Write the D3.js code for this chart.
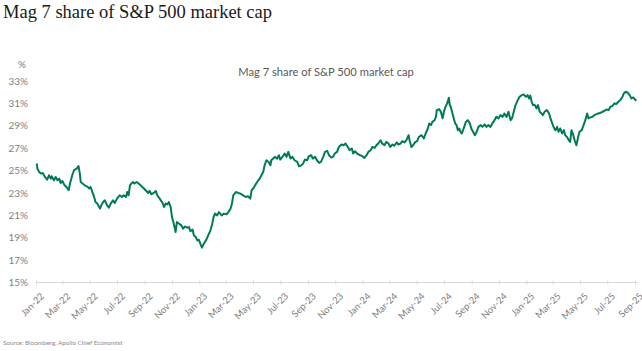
<!DOCTYPE html>
<html>
<head>
<meta charset="utf-8">
<title>Mag 7 share of S&amp;P 500 market cap</title>
<script src="https://cdn.jsdelivr.net/npm/d3@7"></script>
<style>
  body { margin: 0; background: #fff; }
  svg { display: block; }
</style>
</head>
<body>
<div id="chart"></div>
<script>
// Mag 7 share of S&P 500 market cap
const dates = [
  "2022-01-03","2022-01-04","2022-01-08","2022-01-12","2022-01-16","2022-01-21","2022-01-26","2022-01-30",
  "2022-02-03","2022-02-05","2022-02-10","2022-02-14","2022-02-18","2022-02-22","2022-02-25",
  "2022-03-01","2022-03-06","2022-03-10","2022-03-15","2022-03-18","2022-03-23","2022-03-27",
  "2022-04-02","2022-04-06","2022-04-09","2022-04-11","2022-04-15","2022-04-20","2022-04-25","2022-04-30",
  "2022-05-03","2022-05-07","2022-05-11","2022-05-14","2022-05-18","2022-05-24","2022-05-27","2022-05-31",
  "2022-06-04","2022-06-09","2022-06-13","2022-06-17","2022-06-22","2022-06-26",
  "2022-07-01","2022-07-07","2022-07-12","2022-07-16","2022-07-21","2022-07-24","2022-07-27","2022-07-30",
  "2022-08-02","2022-08-06","2022-08-09","2022-08-14","2022-08-17","2022-08-23","2022-08-28",
  "2022-09-03","2022-09-09","2022-09-12","2022-09-16","2022-09-21","2022-09-26","2022-09-29",
  "2022-10-03","2022-10-07","2022-10-11","2022-10-14","2022-10-18","2022-10-22","2022-10-25","2022-10-29",
  "2022-11-01","2022-11-05","2022-11-09","2022-11-12","2022-11-17","2022-11-22","2022-11-26","2022-11-30",
  "2022-12-05","2022-12-09","2022-12-12","2022-12-17","2022-12-20","2022-12-24","2022-12-28","2022-12-31",
  "2023-01-04","2023-01-07","2023-01-11","2023-01-16","2023-01-21","2023-01-26","2023-01-30",
  "2023-02-02","2023-02-05","2023-02-10","2023-02-14","2023-02-20","2023-02-25",
  "2023-03-03","2023-03-07","2023-03-12","2023-03-15","2023-03-18","2023-03-21","2023-03-24","2023-03-29",
  "2023-04-03","2023-04-09","2023-04-15","2023-04-20","2023-04-25","2023-04-28",
  "2023-05-03","2023-05-07","2023-05-12","2023-05-16","2023-05-20","2023-05-24","2023-05-27","2023-05-31",
  "2023-06-05","2023-06-09","2023-06-11","2023-06-15","2023-06-19","2023-06-24","2023-06-28",
  "2023-07-01","2023-07-06","2023-07-11","2023-07-15","2023-07-19","2023-07-24","2023-07-28",
  "2023-08-02","2023-08-08","2023-08-12","2023-08-17","2023-08-21","2023-08-25","2023-08-30",
  "2023-09-03","2023-09-08","2023-09-12","2023-09-17","2023-09-21","2023-09-26","2023-09-30",
  "2023-10-05","2023-10-09","2023-10-14","2023-10-18","2023-10-23","2023-10-27","2023-10-31",
  "2023-11-05","2023-11-09","2023-11-15","2023-11-20","2023-11-24","2023-11-29",
  "2023-12-03","2023-12-08","2023-12-11","2023-12-15","2023-12-20","2023-12-26","2023-12-31",
  "2024-01-05","2024-01-10","2024-01-14","2024-01-19","2024-01-23","2024-01-28",
  "2024-02-01","2024-02-05","2024-02-10","2024-02-14","2024-02-19","2024-02-23","2024-02-28",
  "2024-03-03","2024-03-08","2024-03-12","2024-03-17","2024-03-21","2024-03-26","2024-03-30",
  "2024-04-04","2024-04-08","2024-04-13","2024-04-15","2024-04-19","2024-04-23","2024-04-28",
  "2024-05-02","2024-05-06","2024-05-12","2024-05-17","2024-05-21","2024-05-26","2024-05-29",
  "2024-06-02","2024-06-05","2024-06-10","2024-06-13","2024-06-15","2024-06-20","2024-06-24","2024-06-28","2024-06-30",
  "2024-07-03","2024-07-08","2024-07-12","2024-07-14","2024-07-16","2024-07-20","2024-07-23","2024-07-26","2024-07-29",
  "2024-08-01","2024-08-04","2024-08-07","2024-08-10","2024-08-14","2024-08-19","2024-08-23","2024-08-28","2024-08-31",
  "2024-09-04","2024-09-08","2024-09-12","2024-09-16","2024-09-21","2024-09-25","2024-09-30",
  "2024-10-04","2024-10-08","2024-10-13","2024-10-17","2024-10-22","2024-10-26","2024-10-31",
  "2024-11-04","2024-11-09","2024-11-13","2024-11-18","2024-11-22","2024-11-27","2024-11-30",
  "2024-12-04","2024-12-08","2024-12-13","2024-12-17","2024-12-22","2024-12-26","2024-12-31",
  "2025-01-04","2025-01-07","2025-01-10","2025-01-13","2025-01-16","2025-01-20","2025-01-24","2025-01-27","2025-01-31",
  "2025-02-04","2025-02-07","2025-02-11","2025-02-16","2025-02-21","2025-02-24","2025-02-28",
  "2025-03-03","2025-03-07","2025-03-11","2025-03-14","2025-03-18","2025-03-22","2025-03-26","2025-03-29",
  "2025-04-02","2025-04-06","2025-04-09","2025-04-12","2025-04-15","2025-04-19","2025-04-23","2025-04-27","2025-04-30",
  "2025-05-05","2025-05-09","2025-05-13","2025-05-17","2025-05-20","2025-05-24","2025-05-29",
  "2025-06-02","2025-06-07","2025-06-11","2025-06-16","2025-06-20","2025-06-25","2025-06-29",
  "2025-07-04","2025-07-08","2025-07-12","2025-07-17","2025-07-21","2025-07-26","2025-07-30",
  "2025-08-04","2025-08-07","2025-08-11","2025-08-16","2025-08-20","2025-08-24","2025-08-28",
  "2025-09-01","2025-09-04"
]
const share = [
  25.63,25.18,24.88,24.73,24.79,24.43,24.19,24.58,
  24.28,24.49,24.13,24.43,24.13,24.28,23.89,
  24.07,23.68,23.53,23.24,23.84,24.58,25.03,
  25.18,25.41,24.73,23.98,23.84,23.68,23.59,23.39,
  23.53,23.08,22.64,22.19,22.05,21.60,21.89,22.19,
  22.34,21.89,21.69,22.05,22.34,22.10,
  22.49,22.79,22.64,22.79,22.64,23.08,22.79,23.68,
  23.84,23.98,23.84,23.98,23.89,23.68,23.48,
  23.24,23.00,23.18,22.88,23.00,23.18,22.79,
  22.58,22.34,22.10,21.74,22.05,21.98,22.19,21.74,
  20.85,20.25,19.50,20.40,20.25,20.10,19.81,20.01,
  19.90,19.95,19.59,19.72,19.21,19.06,18.76,18.82,
  18.40,18.11,18.46,18.76,19.21,19.66,20.25,
  20.85,21.15,21.00,21.29,21.00,21.15,
  21.09,21.29,21.60,22.05,22.79,22.94,23.08,23.00,
  22.94,22.79,22.64,22.70,22.49,23.24,
  23.48,23.77,24.07,24.28,24.58,24.88,25.47,25.92,
  25.77,25.47,25.92,26.07,26.22,26.07,26.37,
  25.98,26.22,26.52,26.22,26.67,26.07,26.22,
  25.92,25.77,25.38,25.47,25.62,25.98,25.92,
  26.28,26.37,26.07,26.22,25.92,25.68,25.77,
  26.22,26.67,26.76,26.37,26.16,26.22,26.52,
  26.67,27.11,27.33,27.26,27.42,27.11,
  26.82,26.97,26.52,26.73,26.52,26.37,26.31,
  26.13,26.37,26.67,26.82,27.11,27.03,
  27.26,27.42,27.71,27.42,27.26,27.56,27.42,
  27.11,27.33,27.21,27.51,27.33,27.42,27.62,
  27.51,27.71,28.16,27.71,27.11,27.26,27.56,
  27.62,28.01,28.16,27.86,28.31,28.76,29.21,
  29.06,29.35,29.50,29.80,30.40,30.49,30.25,29.66,30.10,
  30.55,31.00,31.50,30.85,30.70,30.10,29.66,29.21,29.06,
  28.61,28.76,28.46,28.31,28.76,29.35,29.50,29.21,28.76,
  28.46,28.16,28.46,28.90,29.06,28.90,29.12,
  28.90,29.06,28.90,29.21,29.50,29.80,29.66,
  29.95,29.80,30.10,29.80,30.25,29.50,29.66,
  30.25,30.85,31.29,31.59,31.74,31.80,31.59,
  31.74,31.44,31.70,31.14,30.85,30.85,30.55,30.85,30.25,
  30.10,29.95,30.25,30.40,30.10,29.66,29.21,
  28.90,28.61,28.90,28.46,28.76,28.31,28.61,28.16,
  28.01,27.71,27.56,28.61,28.31,27.71,27.26,28.01,28.46,
  28.61,29.06,29.50,30.10,29.66,29.75,29.80,
  29.95,30.04,30.10,30.16,30.25,30.34,30.46,
  30.40,30.70,30.76,31.00,30.94,31.14,31.29,
  31.59,31.89,32.04,31.95,31.74,31.44,31.53,
  31.35,31.23
]
const yTicks = [15, 17, 19, 21, 23, 25, 27, 29, 31, 33]

const chartTitle = "Mag 7 share of S&P 500 market cap"
const source = "Source: Bloomberg, Apollo Chief Economist"

const width = 642
const height = 351
const parse = d3.timeParse("%Y-%m-%d")
const data = dates.map((d, i) => ({ date: parse(d), v: share[i] }))

const svg = d3.select("#chart").append("svg")
  .attr("width", width)
  .attr("height", height)
  .attr("viewBox", `0 0 ${width} ${height}`)

const x = d3.scaleTime()
  .domain([parse("2022-01-01"), parse("2025-09-01")])
  .range([36, 635])
const y = d3.scaleLinear()
  .domain([15, 33])
  .range([282.5, 81])

//page title
svg.append("text")
  .attr("x", 3).attr("y", 18)
  .attr("font-family", "'Liberation Serif', 'DejaVu Serif', serif")
  .attr("font-size", 18.5)
  .attr("fill", "#1a1a1a")
  .text(chartTitle)

//chart title
svg.append("text")
  .attr("x", 326).attr("y", 76)
  .attr("text-anchor", "middle")
  .attr("font-family", "Lato, 'Open Sans', sans-serif")
  .attr("font-size", 11.2)
  .attr("fill", "#595959")
  .text(chartTitle)

//y axis (labels only)
const yAxis = svg.append("g")
  .attr("transform", "translate(28,0)")
  .call(d3.axisLeft(y).tickValues(yTicks).tickSize(0).tickPadding(0).tickFormat(d => d + "%"))
yAxis.select(".domain").remove()
yAxis.selectAll("text")
  .attr("font-family", "Lato, 'Open Sans', sans-serif")
  .attr("font-size", 10)
  .attr("fill", "#7f7f7f")

svg.append("text")
  .attr("x", 22).attr("y", 68)
  .attr("text-anchor", "middle")
  .attr("font-family", "Lato, 'Open Sans', sans-serif")
  .attr("font-size", 10)
  .attr("fill", "#7f7f7f")
  .text("%")

//x axis
const xAxis = svg.append("g")
  .attr("transform", `translate(0,${y(15)})`)
  .call(d3.axisBottom(x)
    .ticks(d3.timeMonth.every(2))
    .tickSize(3)
    .tickFormat(d3.timeFormat("%b-%y")))
xAxis.select(".domain")
  .attr("d", `M36,0H638`)
  .attr("stroke", "#d9d9d9")
xAxis.selectAll(".tick line").attr("stroke", "#d9d9d9").attr("y1", -2).attr("y2", 2)
xAxis.selectAll("text")
  .attr("font-family", "Lato, 'Open Sans', sans-serif")
  .attr("font-size", 9.5)
  .attr("fill", "#7f7f7f")
  .attr("text-anchor", "end")
  .attr("dy", 0)
  .attr("transform", "translate(4,10) rotate(-45)")

//line
svg.append("path")
  .datum(data)
  .attr("fill", "none")
  .attr("stroke", "#007a58")
  .attr("stroke-width", 2)
  .attr("stroke-linejoin", "round")
  .attr("d", d3.line().x(d => x(d.date)).y(d => y(d.v)))

//source
svg.append("text")
  .attr("x", 3).attr("y", 345)
  .attr("font-family", "Lato, 'Open Sans', sans-serif")
  .attr("font-size", 6.3)
  .attr("fill", "#8a8a8a")
  .text(source)
</script>
</body>
</html>
